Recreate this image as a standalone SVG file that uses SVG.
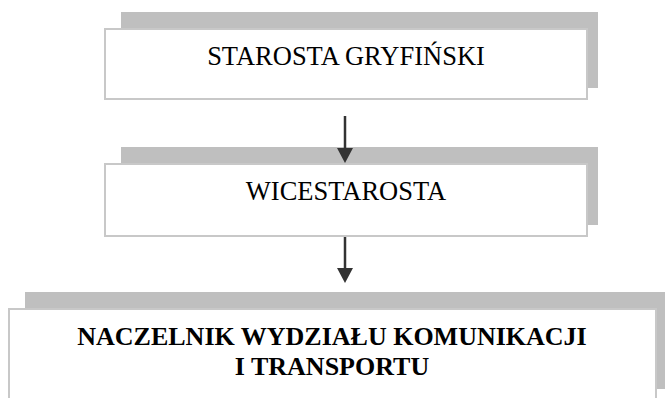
<svg xmlns="http://www.w3.org/2000/svg" width="665" height="398" viewBox="0 0 665 398">
  <style>
    .shadow { fill: #bfbfbf; }
    .box { fill: #ffffff; stroke: #c8c8c8; stroke-width: 2; }
    .lbl { font-family: "Liberation Serif", "Times New Roman", serif; font-size: 26.5px; fill: #000; text-anchor: middle; }
    .bold { font-weight: bold; font-size: 26px; }
    .conn { stroke: #333333; stroke-width: 2.5; fill: none; }
    .head { fill: #333333; }
  </style>
  <rect width="665" height="398" fill="#ffffff"/>
  <g id="node-starosta">
    <rect class="shadow" x="121" y="12" width="477" height="76"/>
    <rect class="box" x="105" y="29" width="482" height="70"/>
    <text class="lbl" x="346" y="65">STAROSTA GRYFIŃSKI</text>
  </g>
  <g id="node-wicestarosta">
    <rect class="shadow" x="121" y="147" width="477" height="78"/>
    <rect class="box" x="105" y="164" width="482" height="72"/>
    <text class="lbl" x="346" y="200">WICESTAROSTA</text>
  </g>
  <g id="node-naczelnik">
    <rect class="shadow" x="25" y="292" width="648" height="97"/>
    <rect class="box" x="9" y="309" width="647" height="100"/>
    <text class="lbl bold" x="332" y="345">NACZELNIK WYDZIAŁU KOMUNIKACJI</text>
    <text class="lbl bold" x="332" y="375">I TRANSPORTU</text>
  </g>
  <g id="connectors">
    <line class="conn" x1="345" y1="116" x2="345" y2="150"/>
    <polygon class="head" points="337,148 353,148 345,163"/>
    <line class="conn" x1="345" y1="237" x2="345" y2="270"/>
    <polygon class="head" points="337,268 353,268 345,283"/>
  </g>
</svg>
